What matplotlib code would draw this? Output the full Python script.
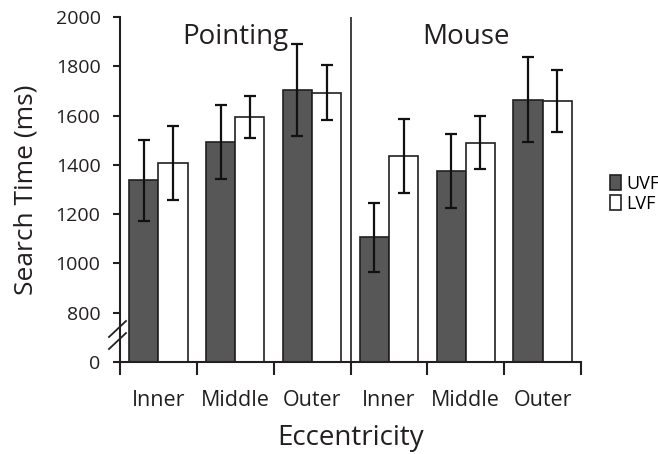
import matplotlib
matplotlib.use("Agg")
import matplotlib.pyplot as plt
import numpy as np

plt.rcParams['font.family'] = ['Open Sans', 'DejaVu Sans']

categories = ["Inner", "Middle", "Outer", "Inner", "Middle", "Outer"]
groups = ["Pointing", "Mouse"]
uvf = [1337, 1494, 1704, 1106, 1374, 1665]
uvf_err = [163, 150, 188, 139, 150, 172]
lvf = [1408, 1593, 1693, 1437, 1490, 1658]
lvf_err = [151, 86, 111, 150, 108, 125]
ytick_vals = [600, 800, 1000, 1200, 1400, 1600, 1800, 2000]
ytick_labels = ["0", "800", "1000", "1200", "1400", "1600", "1800", "2000"]
base = 600

dark = "#231f20"
fig = plt.figure(figsize=(6.58, 4.54), dpi=100)
ax = fig.add_axes([120/658, 1-362/454, (581-120)/658, (362-17)/454])

x = np.arange(len(categories))
w = 0.38
ax.bar(x - w/2, np.array(uvf) - base, w, bottom=base, color="#575757", edgecolor=dark, linewidth=1.2, label="UVF", zorder=2)
ax.bar(x + w/2, np.array(lvf) - base, w, bottom=base, color="white", edgecolor=dark, linewidth=1.2, label="LVF", zorder=2)
ax.errorbar(x - w/2, uvf, yerr=uvf_err, fmt="none", ecolor="#111111", elinewidth=1.6, capsize=4, capthick=1.6, zorder=3)
ax.errorbar(x + w/2, lvf, yerr=lvf_err, fmt="none", ecolor="#111111", elinewidth=1.6, capsize=4, capthick=1.6, zorder=3)

ax.set_xlim(-0.5, 5.5)
ax.set_ylim(base, 2000)
ax.set_yticks(ytick_vals)
ax.set_yticklabels(ytick_labels, fontsize=14)
ax.set_xticks(x)
ax.set_xticklabels(categories, fontsize=15.5)
ax.set_xticks(np.arange(-0.5, 6, 1.0), minor=True)
ax.tick_params(axis='x', which='major', length=0, pad=20, labelcolor="#231f20")
ax.tick_params(axis='x', which='minor', length=9, width=1.5, color=dark, direction='out')
ax.tick_params(axis='y', length=5, width=1.5, color=dark, direction='out', labelcolor="#231f20", pad=9)

for s in ['top', 'right']:
    ax.spines[s].set_visible(False)
for s in ['left', 'bottom']:
    ax.spines[s].set_color(dark)
    ax.spines[s].set_linewidth(1.5)

ax.axvline(2.5, color=dark, linewidth=1.2, zorder=1)

ax.text(1.0, 1920, groups[0], ha='center', va='center', fontsize=20, color="#231f20")
ax.text(4.0, 1920, groups[1], ha='center', va='center', fontsize=20, color="#231f20")

ax.set_ylabel("Search Time (ms)", fontsize=19, color="#231f20")
ax.yaxis.set_label_coords(-(120-39)/461, 0.5)
ax.set_xlabel("Eccentricity", fontsize=20, color="#231f20")
ax.xaxis.set_label_coords(0.5, -(438-362)/345)
ax.xaxis.label.set_va('center')

# axis break marks
for dy in (0, 12):
    fig.lines.append(plt.Line2D([109/658, 126/658], [1-(341+dy-4)/454, 1-(325+dy-4)/454],
                                transform=fig.transFigure, color=dark, linewidth=1.3))

fig.legend(loc='center left', bbox_to_anchor=(601/658, 1-194/454), frameon=False,
           fontsize=13, handlelength=0.6, handleheight=0.9, handletextpad=0.3,
           labelspacing=0.1, borderpad=0)

fig.savefig("out.png", dpi=100)
